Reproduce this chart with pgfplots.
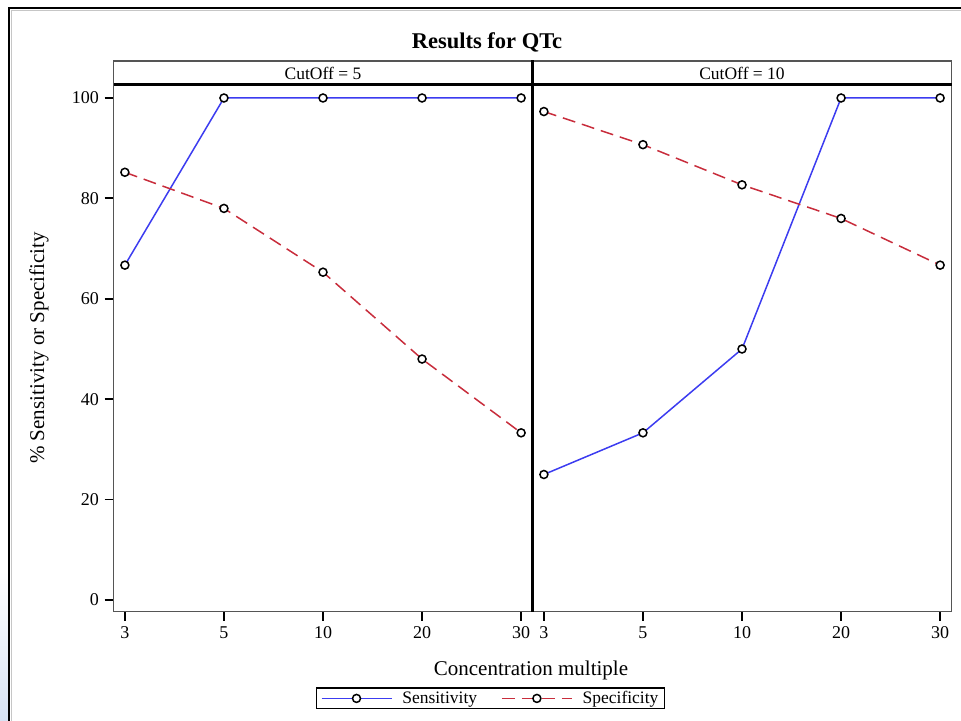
\documentclass[border=0pt]{standalone}
\usepackage{fontspec}
\setmainfont{Liberation Serif}
\usepackage{pgfplots}
\pgfplotsset{compat=1.18}
\definecolor{sensblue}{RGB}{60,60,240}
\definecolor{specred}{RGB}{200,45,60}
\definecolor{framegray}{RGB}{85,85,85}
\begin{document}
\begin{tikzpicture}[x=1bp,y=1bp]
\path[use as bounding box] (0,0) rectangle (961,721);
\shade[top color=white,bottom color={rgb,255:red,214;green,226;blue,244}] (0,0) rectangle (8,150);
\draw[line width=2.2bp] (9,0) -- (9,713) -- (961,713);
\draw[line width=1bp, gray!45] (11.6,0) -- (11.6,710.4) -- (961,710.4);

\pgfplotsset{
  panel/.style={
    scale only axis, width=419bp, height=527bp,
    xmin=-0.115, xmax=4.115, ymin=-2.39, ymax=102.59,
    xtick={0,1,2,3,4}, xticklabels={3,5,10,20,30},
    tick align=outside, major tick length=9bp,
    xtick pos=left, ytick pos=left,
    axis line style={framegray, line width=1bp},
    tick style={black, line width=1.8bp},
    ticklabel style={font=\fontsize{18bp}{20bp}\selectfont},
    /pgf/number format/assume math mode=true,
    xticklabel style={yshift=-2bp},
    yticklabel style={xshift=-2bp},
  },
  sens/.style={sensblue, line width=1.5bp, mark=*, mark size=4bp,
    mark options={solid, draw=black, fill=white, line width=1.5bp}},
  spec/.style={specred, line width=1.5bp, dash pattern=on 13bp off 7bp, mark=*, mark size=4bp,
    mark options={solid, draw=black, fill=white, line width=1.5bp}},
}

\begin{axis}[panel, at={(113.5bp,109bp)}, anchor=south west,
  ytick={0,20,40,60,80,100},
  legend columns=2,
  legend style={at={(axis description cs:0.9,-0.164)}, anchor=center,
    draw=black, line width=1.2bp, font=\fontsize{17.5bp}{19bp}\selectfont,
    inner xsep=4bp, inner ysep=1.5bp,
    /tikz/every even column/.append style={column sep=22bp}},
  legend image code/.code={\draw[line width=1.5bp, mark repeat=2, mark phase=2] plot coordinates {(0bp,0bp) (35bp,0bp) (70bp,0bp)}; \path (78bp,0bp);},
]
\addplot[sens] coordinates {(0,66.7) (1,100) (2,100) (3,100) (4,100)};
\addlegendentry{Sensitivity}
\addplot[spec] coordinates {(0,85.2) (1,78.0) (2,65.3) (3,48.0) (4,33.3)};
\addlegendentry{Specificity}
\end{axis}

\begin{axis}[panel, at={(532.5bp,109bp)}, anchor=south west,
  ytick=\empty]
\addplot[sens] coordinates {(0,25.0) (1,33.3) (2,50.0) (3,100) (4,100)};
\addplot[spec] coordinates {(0,97.3) (1,90.7) (2,82.7) (3,76.0) (4,66.7)};
\end{axis}

% panel headers
\draw[line width=1.2bp, framegray] (113.5,636) rectangle (951.5,660);
\draw[line width=3bp] (113.5,636) -- (951.5,636);
\draw[line width=3bp] (532.5,660.5) -- (532.5,109);
\node[font=\fontsize{17.5bp}{19bp}\selectfont] at (323,647.5) {CutOff = 5};
\node[font=\fontsize{17.5bp}{19bp}\selectfont] at (742,647.5) {CutOff = 10};

% title and labels
\node[font=\bfseries\fontsize{22.5bp}{24bp}\selectfont] at (487,679) {Results for QTc};
\node[font=\fontsize{21bp}{23bp}\selectfont] at (531,51) {Concentration multiple};
\node[rotate=90, font=\fontsize{21bp}{23bp}\selectfont] at (39,373) {\% Sensitivity or Specificity};
\end{tikzpicture}
\end{document}
